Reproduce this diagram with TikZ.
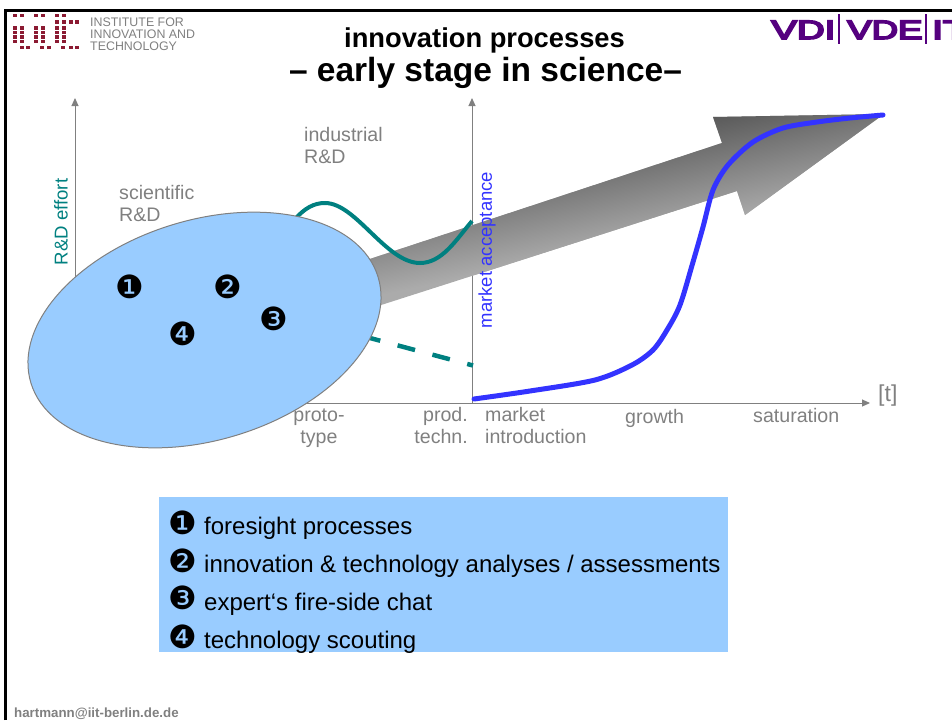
\documentclass[tikz,border=0pt]{standalone}
\usepackage{fontspec}
\setmainfont{Liberation Sans}
\newfontfamily\symfont{DejaVu Sans}
\newfontfamily\vdifont[FakeBold=6]{Liberation Sans}
\usetikzlibrary{arrows.meta}
\usetikzlibrary{positioning}
\usetikzlibrary{shapes}

\definecolor{labelgray}{HTML}{808080}
\definecolor{tealline}{HTML}{008080}
\definecolor{blueline}{HTML}{3333FF}
\definecolor{skyfill}{HTML}{99CCFF}
\definecolor{logored}{HTML}{8B1A32}
\definecolor{logopurple}{HTML}{55007F}

\tikzset{
	label/.style={inner sep=0,text=labelgray,align=left,font=\fontsize{19.6}{22}\selectfont},
	axis/.style={draw=labelgray,line width=1pt,-{Triangle[length=8pt,width=7pt]}},
	digit/.style={inner sep=0,font=\symfont\fontsize{32}{32}\selectfont},
	item/.style={inner sep=0,anchor=base west,font=\fontsize{24}{28}\selectfont},
	dot/.style={fill=logored,minimum width=4.2pt,minimum height=3.4pt,inner sep=0},
	vdi/.style={inner sep=0,anchor=base west,text=logopurple,font=\vdifont\fontsize{26.5}{27}\selectfont},
	vdibar/.style={draw=logopurple,line width=2pt}
}

\begin{document}
\begin{tikzpicture}[x=1pt,y=-1pt,node distance=9pt]
	\useasboundingbox (0,0) rectangle (952,720);

	% Frame
	\draw [line width=2.6pt] (5.3,720) -- (5.3,10.6) -- (952,10.6);

	% Logo left
	\foreach \ypos/\cols in {15.3/{15,22,36,43,57,64},22/{57,64,71,77},28/{15,22,36,43,57,64},32.5/{15,22,36,43,57,64},37/{15,22,36,43,57,64},41.5/{15,22,36,43,57,64},47.5/{22,28,42,49,63,71,77}}
		\foreach \xpos in \cols
			\node [dot] at (\xpos,\ypos) {};
	\node [inner sep=0,anchor=north west,text=labelgray,align=left,font=\fontsize{12.4}{12}\selectfont] (logotext) at (90,17.5) {INSTITUTE FOR\\INNOVATION AND\\TECHNOLOGY};

	% Logo right
	\node [vdi,xscale=1.45] (vdione) at (771,39) {VDI};
	\node [vdi,xscale=1.38] (vditwo) at (847,39) {VDE};
	\node [vdi,xscale=1.45] (vdithree) at (932,39) {IT};
	\coordinate (barone) at (839,14);
	\coordinate (bartwo) at (926,14);
	\draw [vdibar] (barone) -- ++(0,30);
	\draw [vdibar] (bartwo) -- ++(0,30);

	% Title
	\node [inner sep=0,font=\bfseries\fontsize{27.3}{30}\selectfont] (title) at (484.5,40) {innovation processes};
	\node [inner sep=0,font=\bfseries\fontsize{33.5}{36}\selectfont] (subtitle) at (485.5,73) {– early stage in science–};

	% Axes
	\coordinate (origin) at (75,403);
	\coordinate (rdtop) at (75,98);
	\coordinate (timeend) at (870,403);
	\coordinate (marketfoot) at (472,403);
	\coordinate (markettop) at (472,98);
	\draw [axis] (origin) -- (rdtop);
	\draw [axis] (origin) -- (timeend);
	\draw [axis] (marketfoot) -- (markettop);

	% Big arrow
	\begin{scope}
		\clip (884,114) -- (713,117) -- (722,143) -- (300,282) -- (300,331) -- (737,191) -- (745,215) -- cycle;
		\fill [black!33] (290,100) rectangle (900,340);
		\begin{scope}[transform canvas={rotate around={12:(713,170)}}]
			\shade [top color=black!65,bottom color=black!33] (200,117) rectangle (1100,223);
		\end{scope}
	\end{scope}

	% Curves
	\coordinate (rdstart) at (295,219);
	\coordinate (rdpeak) at (325,203);
	\coordinate (rdlow) at (420,263);
	\coordinate (rdend) at (472,221);
	\draw [tealline,line width=4pt] (rdstart) .. controls (305,208) and (314,203) .. (rdpeak) .. controls (356,203) and (386,263) .. (rdlow) .. controls (442,263) and (456,240) .. (rdend);
	\coordinate (dashend) at (473,365.5);
	\coordinate (dashstart) at (340,330);
	\draw [tealline,line width=4.5pt,dash pattern=on 18pt off 18pt,dash phase=12pt] (dashend) -- (dashstart);

	% Ellipse
	\node [ellipse,draw=labelgray,line width=1pt,fill=skyfill,inner sep=0,minimum width=363pt,minimum height=220pt,rotate=17] (sciellipse) at (204.5,330) {};
	\node [digit] (n1) at (130,287) {❶};
	\node [digit] (n2) at (228,287) {❷};
	\node [digit] (n3) at (274,319) {❸};
	\node [digit] (n4) at (183,334) {❹};

	\draw [blueline,line width=5pt,line cap=round] plot [smooth,tension=0.5] coordinates {(474,399) (530,391) (595,380) (632,365) (653,350) (667,330) (680,305) (693,262) (703,227) (713,190) (728,165) (753,142) (783,128) (817,122) (850,118) (883,115)};

	% Labels
	\node [label,anchor=north west] (scientific) at (119,185) {scientific\\R\&D};
	\node [label,anchor=north west] (industrial) at (304,127) {industrial\\R\&D};
	\node [label,align=center,anchor=north] (proto) at (319,408.5) {proto-\\type};
	\node [label,align=right,anchor=north east] (prod) at (468,407) {prod.\\techn.};
	\node [label,anchor=north west] (market) at (485,407) {market\\introduction};
	\node [label,anchor=north west] (growth) at (625,409) {growth};
	\node [label,anchor=north west] (saturation) at (753,408) {saturation};
	\node [label,anchor=west,font=\fontsize{23}{24}\selectfont] (tlabel) at (878,396) {[t]};
	\node [inner sep=0,rotate=90,text=tealline,font=\fontsize{18.6}{20}\selectfont] (effort) at (61,222) {R\&D effort};
	\node [inner sep=0,rotate=90,text=blueline,font=\fontsize{18.5}{20}\selectfont] (acceptance) at (487,250) {market acceptance};

	% List
	\fill [skyfill] (159,497) rectangle (728,652);
	\node [digit] (b1) at (183,523) {❶};
	\node [digit] (b2) at (183,561) {❷};
	\node [digit] (b3) at (183,598) {❸};
	\node [digit] (b4) at (183,637) {❹};
	\node [item] (t1) at (204,534) {foresight processes};
	\node [item] (t2) at (204,572) {innovation \& technology analyses / assessments};
	\node [item] (t3) at (204,610) {expert‘s fire-side chat};
	\node [item] (t4) at (204,648) {technology scouting};

	% Footer
	\node [inner sep=0,anchor=base west,text=labelgray,font=\bfseries\fontsize{13.3}{14}\selectfont] (mail) at (14,717) {hartmann@iit-berlin.de.de};
\end{tikzpicture}
\end{document}
